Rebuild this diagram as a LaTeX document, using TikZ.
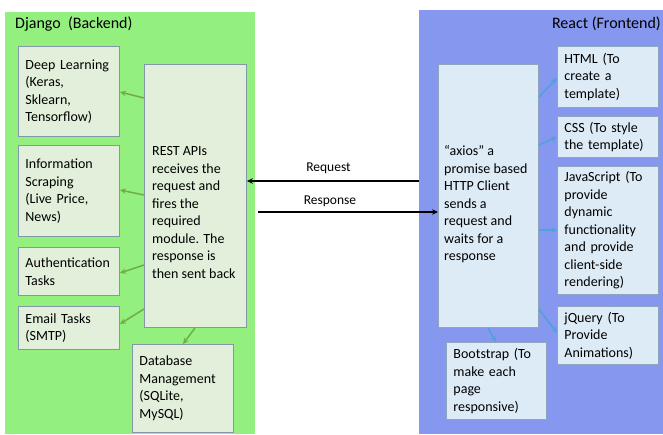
\documentclass[tikz,border=0pt]{standalone}
\usepackage{fontspec}
\setmainfont{Carlito}
\usetikzlibrary{arrows.meta}
\definecolor{gpanel}{HTML}{93F07F}
\definecolor{bpanel}{HTML}{8597EF}
\definecolor{gfill}{HTML}{E2EFDA}
\definecolor{bfill}{HTML}{DDEBF7}
\definecolor{gborder}{HTML}{8497A8}
\definecolor{bborder}{HTML}{8FA5BD}
\definecolor{garrowc}{HTML}{70AD47}
\definecolor{barrowc}{HTML}{4FA3D6}
\begin{document}
\begin{tikzpicture}[x=1pt,y=-1pt,
  txt/.style={font=\fontsize{14}{17.5}\selectfont},
  panel/.style={anchor=north west, inner sep=0pt, draw=none},
  gbox/.style={txt, draw=gborder, fill=gfill, line width=0.9pt, anchor=north west,
    inner xsep=7pt, inner ysep=0pt, align=left},
  bbox/.style={txt, draw=bborder, fill=bfill, line width=0.9pt, anchor=north west,
    inner xsep=7pt, inner ysep=0pt, align=left},
  garrow/.style={draw=garrowc, line width=1.5pt, -{Stealth[length=6pt,width=5.5pt]}},
  barrow/.style={draw=barrowc, line width=1.5pt, -{Stealth[length=6pt,width=5.5pt]}},
  karrow/.style={draw=black, line width=1.4pt, -{Stealth[length=6pt,width=5.5pt]}}
]
\useasboundingbox (0,0) rectangle (663,434);
\fill[white] (0,0) rectangle (663,434);
% panels
\node[panel, fill=gpanel, minimum width=250pt, minimum height=422pt] (django) at (5,12) {};
\node[panel, fill=bpanel, minimum width=244pt, minimum height=424pt] (react) at (419,10) {};
\node[font=\fontsize{16}{19}\selectfont, anchor=west, inner sep=0pt] (djt) at (15,24) {Django\ \ (Backend)};
\node[font=\fontsize{16}{19}\selectfont, anchor=east, inner sep=0pt] (rct) at (661,24) {React (Frontend)};
% django boxes
\node[gbox, minimum width=101pt, minimum height=90pt, text width=87pt] (dl) at (18,46) {Deep Learning\\(Keras,\\Sklearn,\\Tensorflow)};
\node[gbox, minimum width=101pt, minimum height=91pt, text width=87pt] (is) at (18,145) {Information\\Scraping\\(Live Price,\\News)};
\node[gbox, minimum width=101pt, minimum height=48pt, text width=87pt] (au) at (18,247) {Authentication\\Tasks};
\node[gbox, minimum width=101pt, minimum height=43pt, text width=87pt] (em) at (18,306) {Email Tasks\\(SMTP)};
\node[gbox, minimum width=102pt, minimum height=263pt, text width=88pt] (rest) at (144,64) {};
\node[txt, anchor=west, align=left, inner sep=0pt] (resttxt) at (152,212.5) {REST APIs\\receives the\\request and\\fires the\\required\\module. The\\response is\\then sent back};
\node[gbox, minimum width=101pt, minimum height=88pt, text width=87pt] (db) at (132,344) {Database\\Management\\(SQLite,\\MySQL)};
% react boxes
\node[bbox, minimum width=100pt, minimum height=263pt, text width=86pt] (axios) at (438,64) {};
\node[txt, anchor=west, align=left, inner sep=0pt] (axiostxt) at (444,204.5) {“axios” a\\promise based\\HTTP Client\\sends a\\request and\\waits for a\\response};
\node[bbox, minimum width=101pt, minimum height=61pt, text width=87pt] (html) at (557,46) {HTML (To\\create a\\template)};
\node[bbox, minimum width=101pt, minimum height=41pt, text width=87pt] (css) at (557,116) {CSS (To style\\the template)};
\node[bbox, minimum width=101pt, minimum height=128pt, text width=87pt] (js) at (557,166) {JavaScript (To\\provide\\dynamic\\functionality\\and provide\\client-side\\rendering)};
\node[bbox, minimum width=101pt, minimum height=58pt, text width=87pt] (jq) at (557,306) {jQuery (To\\Provide\\Animations)};
\node[bbox, minimum width=100pt, minimum height=77pt, text width=86pt] (bs) at (446,342) {Bootstrap (To\\make each\\page\\responsive)};
% green connectors
\draw[garrow] (rest.west |- 0,98) -- (dl.east |- 0,92);
\draw[garrow] (rest.west |- 0,195) -- (is.east |- 0,190);
\draw[garrow] (rest.west |- 0,265) -- (au.east |- 0,273);
\draw[garrow] (rest.west |- 0,309) -- (em.east |- 0,324);
\draw[garrow] (rest.south -| 195,0) -- (db.north -| 183,0);
% blue connectors
\draw[barrow] (axios.east |- 0,97) -- (html.west |- 0,78);
\draw[barrow] (axios.east |- 0,145) -- (css.west |- 0,137);
\draw[barrow] (axios.east |- 0,230) -- (js.west |- 0,230);
\draw[barrow] (axios.east |- 0,309) -- (jq.west |- 0,333);
\draw[barrow] (axios.south -| 488,0) -- (bs.north -| 496,0);
% request / response
\coordinate (reqs) at (419,181);
\coordinate (ress) at (258,212);
\draw[karrow] (reqs) -- (reqs -| rest.east);
\draw[karrow] (ress) -- (ress -| axios.west);
\node[txt, font=\fontsize{13.5}{16}\selectfont, inner sep=0pt] (reql) at (328.5,168) {Request};
\node[txt, font=\fontsize{13.5}{16}\selectfont, inner sep=0pt] (resl) at (330,201) {Response};
\end{tikzpicture}
\end{document}
